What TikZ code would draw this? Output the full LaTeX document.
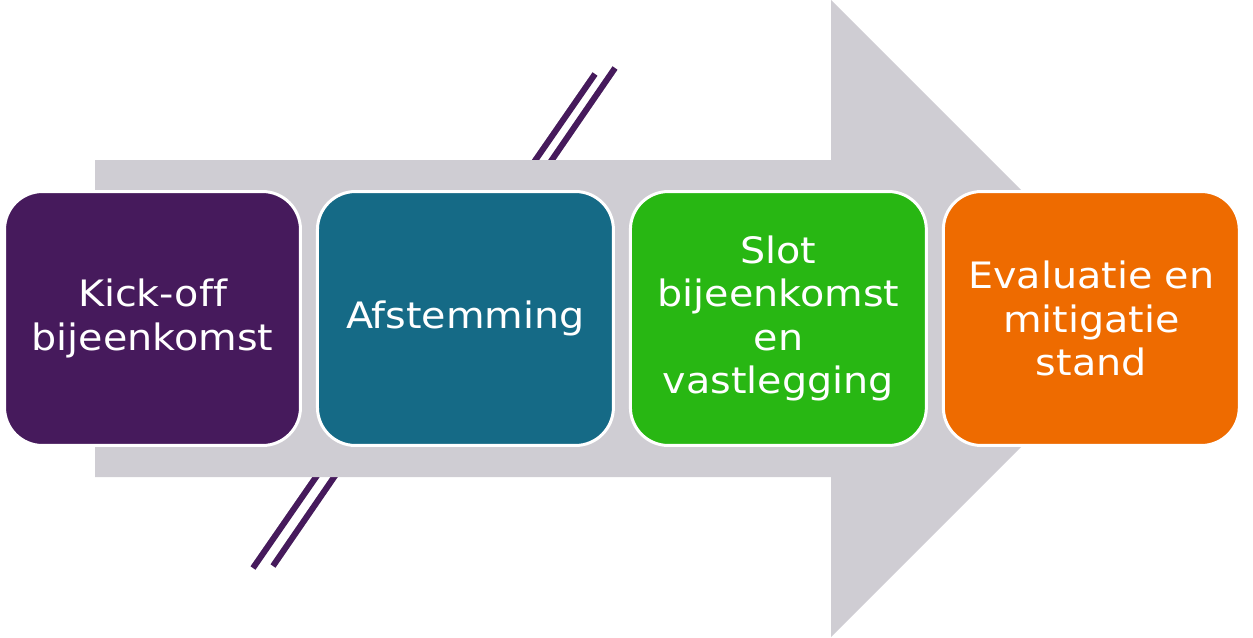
\documentclass[tikz,border=0pt]{standalone}
\usepackage{fontspec}
\setmainfont[FakeStretch=1.09, Ligatures=NoCommon]{DejaVu Sans}
\usetikzlibrary{positioning}

\definecolor{arrowgray}{RGB}{207,205,211}
\definecolor{kickpurple}{RGB}{70,26,92}
\definecolor{afsteal}{RGB}{21,106,134}
\definecolor{slotgreen}{RGB}{40,183,19}
\definecolor{evalorange}{RGB}{238,107,0}

\tikzset{
  phase/.style={draw=white, line width=0.06cm, rounded corners=0.76cm,
    minimum width=5.92cm, minimum height=5.08cm, inner sep=0pt,
    text=white, align=center, font=\fontsize{20.7}{24.6}\selectfont},
  slash/.style={kickpurple, line width=0.12cm}
}

\begin{document}
\begin{tikzpicture}[x=0.02cm, y=-0.02cm]
  \useasboundingbox (0,0) rectangle (1253,637);
  % break marks behind the arrow
  \coordinate (s1a) at (253,568); \coordinate (s1b) at (595,74);
  \coordinate (s2a) at (273,566); \coordinate (s2b) at (615,68);
  \begin{scope}[shift={(2,3)}]
    \draw[black!20, line width=0.12cm] (s1a) -- (s1b);
    \draw[black!20, line width=0.12cm] (s2a) -- (s2b);
  \end{scope}
  \draw[slash] (s1a) -- (s1b);
  \draw[slash] (s2a) -- (s2b);
  % big arrow
  \fill[arrowgray] (95,160) -- (831,160) -- (831,0) -- (1149.5,318.5)
    -- (831,637) -- (831,477) -- (95,477) -- cycle;
  % phases
  \node[phase, fill=kickpurple] (kickoff) at (152.5,318.5) {Kick-off\\bijeenkomst};
  \node[phase, fill=afsteal, right=0.28cm of kickoff] (afstemming) {Afstemming};
  \node[phase, fill=slotgreen, right=0.28cm of afstemming] (slot) {Slot\\bijeenkomst\\en\\vastlegging};
  \node[phase, fill=evalorange, right=0.28cm of slot] (evaluatie) {Evaluatie en\\mitigatie\\stand};
\end{tikzpicture}
\end{document}
